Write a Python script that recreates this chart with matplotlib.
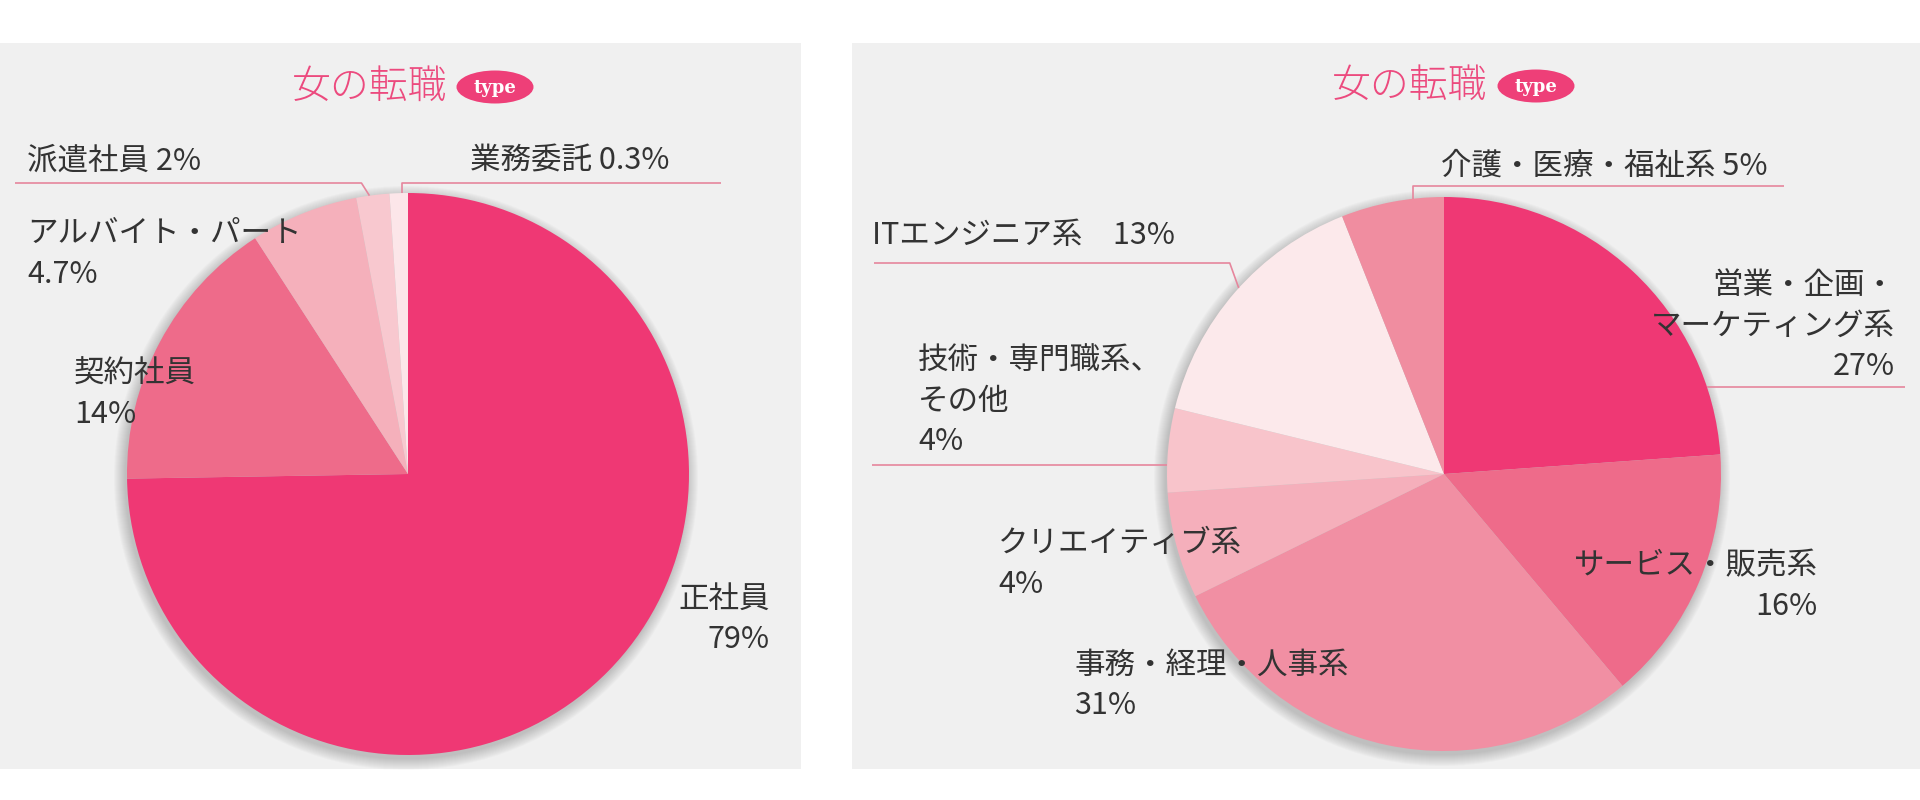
import numpy as np
import matplotlib
matplotlib.use('Agg')
import matplotlib.pyplot as plt
from matplotlib.patches import Rectangle, Ellipse, Circle

plt.rcParams['font.family'] = ['Noto Sans CJK JP', 'DejaVu Sans']

# left chart: employment type
emp_labels = ['正社員', '契約社員', 'アルバイト・パート', '派遣社員', '業務委託']
emp_pct = ['79%', '14%', '4.7%', '2%', '0.3%']
emp_sizes = [74.7, 16.1, 6.2, 1.9, 1.05]   # wedge sizes as drawn in the picture
emp_colors = ['#EF3874', '#EE6B8A', '#F5B0BB', '#F8C8CF', '#FCE6E9']

# right chart: job category
job_labels = ['営業・企画・\nマーケティング系', 'サービス・販売系', '事務・経理・人事系',
              'クリエイティブ系', '技術・専門職系、\nその他', 'ITエンジニア系', '介護・医療・福祉系']
job_pct = ['27%', '16%', '31%', '4%', '4%', '13%', '5%']
job_sizes = [23.9, 15.0, 28.9, 6.2, 4.9, 15.2, 6.0]
job_colors = ['#EF3874', '#EE6B8A', '#F18FA3', '#F5AFBB', '#F8C4CB', '#FCE9EB', '#F08DA0']

W, H = 1920, 800
TXT = '#333333'
LINE = '#E6869D'


def Y(y):
    # pixel rows from top -> data y
    return H - y


def shadow(ax, cx, cy, r):
    for i in range(12):
        ax.add_patch(Circle((cx - 2, Y(cy + 4)), r + i, color='#555555', alpha=0.028, lw=0, zorder=1))


def logo(ax, tx, ex, y):
    ax.text(tx, Y(y), '女の転職', fontsize=28, color='#EC4A7E', ha='center', va='center',
            fontweight='light', zorder=5)
    ax.add_patch(Ellipse((ex, Y(y)), 77, 33, color='#EE3F78', lw=0, zorder=5))
    ax.text(ex, Y(y + 1), 'type', fontsize=13, color='white', ha='center', va='center',
            family='DejaVu Serif', fontweight='bold', zorder=6)


def labels(ax, names, pcts, layout):
    for name, pct, (x, y, ha, sep) in zip(names, pcts, layout):
        ax.text(x, Y(y), name + sep + pct, fontsize=22, color=TXT, ha=ha, va='center',
                multialignment=ha, linespacing=1.38, zorder=7)


def leaders(ax, wedges, cx, cy, r, specs):
    for idx, frac, yl, xfar, dx in specs:
        w = wedges[idx]
        a = np.deg2rad(w.theta1 + frac * (w.theta2 - w.theta1))
        ex, ey = cx + r * np.cos(a), Y(cy) + r * np.sin(a)
        if yl is None:
            pts = [(xfar, ey), (ex, ey)]
        else:
            pts = [(xfar, Y(yl)), (ex + dx, Y(yl)), (ex, ey)]
        xs, ys = zip(*pts)
        ax.plot(xs, ys, color=LINE, lw=1.2, zorder=4, solid_capstyle='butt')


fig = plt.figure(figsize=(19.2, 8), dpi=100)
fig.patch.set_facecolor('white')
ax = fig.add_axes([0, 0, 1, 1])

# panels
ax.add_patch(Rectangle((0, Y(769)), 801, 726, color='#F0F0F0', lw=0, zorder=0))
ax.add_patch(Rectangle((852, Y(769)), 1068, 726, color='#F0F0F0', lw=0, zorder=0))

# left pie
lcx, lcy, lr = 408, 474, 281
shadow(ax, lcx, lcy, lr)
lw_, _ = ax.pie(emp_sizes, colors=emp_colors, startangle=90, counterclock=False,
                center=(lcx, Y(lcy)), radius=lr, frame=True,
                wedgeprops=dict(linewidth=0))
for w in lw_:
    w.set_zorder(2)

# right pie
rcx, rcy, rr = 1444, 474, 277
shadow(ax, rcx, rcy, rr)
rw_, _ = ax.pie(job_sizes, colors=job_colors, startangle=90, counterclock=False,
                center=(rcx, Y(rcy)), radius=rr, frame=True,
                wedgeprops=dict(linewidth=0))
for w in rw_:
    w.set_zorder(2)

leaders(ax, lw_, lcx, lcy, lr, [
    (3, 0.6, 183, 15, -8),
    (4, 0.3, 183, 721, 0),
])
leaders(ax, rw_, rcx, rcy, rr, [
    (6, 0.3, 186, 1784, 0),
    (5, 0.48, 263, 874, -9),
    (4, 0.67, None, 872, 0),
    (0, 0.165, None, 1905, 0),
])

labels(ax, emp_labels, emp_pct, [
    (770, 619, 'right', '\n'),
    (74, 394, 'left', '\n'),
    (27, 254, 'left', '\n'),
    (27, 161, 'left', ' '),
    (470, 161, 'left', ' '),
])
labels(ax, job_labels, job_pct, [
    (1895, 326, 'right', '\n'),
    (1818, 586, 'right', '\n'),
    (1074, 685, 'left', '\n'),
    (998, 564, 'left', '\n'),
    (918, 401, 'left', '\n'),
    (872, 236, 'left', '\u3000'),
    (1441, 166, 'left', ' '),
])

logo(ax, 370, 495, 87)
logo(ax, 1410, 1536, 86)

ax.set_xlim(0, W)
ax.set_ylim(0, H)
ax.set_aspect('auto')
ax.axis('off')

fig.savefig('out.png', dpi=100, facecolor='white')
